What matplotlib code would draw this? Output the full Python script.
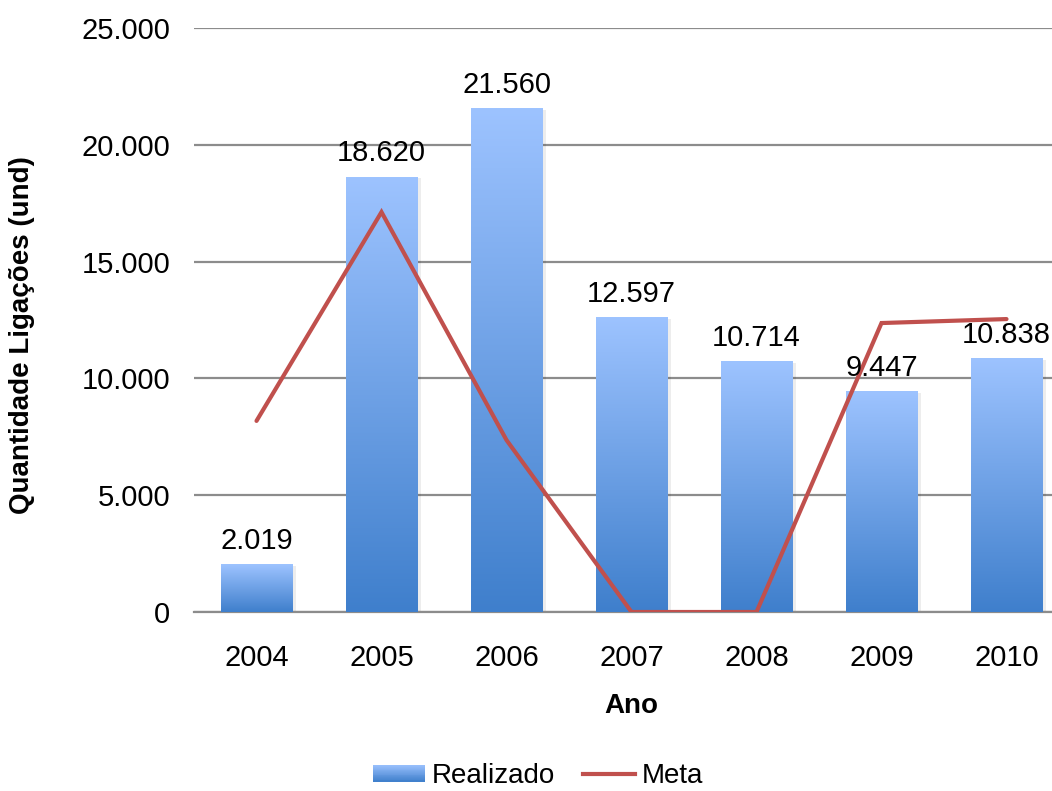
import matplotlib
matplotlib.use("Agg")
import matplotlib.pyplot as plt
import numpy as np
from matplotlib.patches import Rectangle
from matplotlib.lines import Line2D
from matplotlib.legend_handler import HandlerBase
from matplotlib.colors import LinearSegmentedColormap

plt.rcParams['font.family'] = ['Liberation Sans', 'DejaVu Sans']

years = ["2004", "2005", "2006", "2007", "2008", "2009", "2010"]
realizado = [2019, 18620, 21560, 12597, 10714, 9447, 10838]
realizado_labels = ["2.019", "18.620", "21.560", "12.597", "10.714", "9.447", "10.838"]
meta = [8180, 17120, 7360, 0, 0, 12370, 12540]
yticks = [0, 5000, 10000, 15000, 20000, 25000]
ytick_labels = ["0", "5.000", "10.000", "15.000", "20.000", "25.000"]

TOP = "#9DC3FF"
BOT = "#3F7FCC"
cmap = LinearSegmentedColormap.from_list("g", [BOT, TOP])

W, H = 1052, 791
fig = plt.figure(figsize=(W / 100, H / 100), dpi=100)
ax = fig.add_axes([194 / W, (H - 612) / H, 875 / W, 584 / H])

x = np.arange(len(years))
bw = 0.576
grad = np.linspace(0, 1, 256).reshape(-1, 1)

for xi, v, lab in zip(x, realizado, realizado_labels):
    ax.add_patch(Rectangle((xi - bw / 2 + 0.025, 0), bw, v - 60, facecolor="#000000",
                           alpha=0.07, edgecolor="none", zorder=2))
    ax.imshow(grad, extent=[xi - bw / 2, xi + bw / 2, 0, v], origin="lower",
              cmap=cmap, aspect="auto", zorder=3)
    ax.annotate(lab, (xi, v), xytext=(0, 7), textcoords="offset points",
                ha="center", va="bottom", fontsize=21, color="#000000", zorder=5)

ax.plot(x, meta, color="#C0504D", lw=3, solid_capstyle="round",
        solid_joinstyle="miter", zorder=4)

ax.set_xlim(-0.5, len(years) - 0.5)
ax.set_ylim(0, 25000)
ax.set_yticks(yticks)
ax.set_yticklabels(ytick_labels, fontsize=21)
ax.set_xticks(x)
ax.set_xticklabels(years, fontsize=21)
ax.tick_params(axis="both", length=0)
ax.tick_params(axis="y", pad=17)
ax.tick_params(axis="x", pad=23)
for s in ["left", "right", "top"]:
    ax.spines[s].set_visible(False)
ax.spines["bottom"].set_color("#8C8C8C")
ax.spines["bottom"].set_linewidth(1.6)
ax.yaxis.grid(True, color="#8C8C8C", lw=1.6)
ax.set_axisbelow(True)

ax.set_xlabel("Ano", fontsize=20, fontweight="bold", labelpad=15)
fig.text(22 / W, 1 - 335 / H, "Quantidade Ligações (und)", rotation=90,
         fontsize=20, fontweight="bold", ha="center", va="center")


class GradHandler(HandlerBase):
    def create_artists(self, legend, orig_handle, xdescent, ydescent, width,
                       height, fontsize, trans):
        arts = []
        n = 20
        for i in range(n):
            c = cmap(1 - (i + 0.5) / n)
            r = Rectangle((-xdescent, -ydescent + height * (1 - (i + 1) / n)),
                          width, height / n + 0.2, facecolor=c, edgecolor="none",
                          transform=trans)
            arts.append(r)
        return arts


gh = Rectangle((0, 0), 1, 1)
lh = Line2D([0], [0], color="#C0504D", lw=3)
leg = fig.legend([gh, lh], ["Realizado", "Meta"],
                 handler_map={Rectangle: GradHandler()},
                 loc="center", bbox_to_anchor=(538 / W, 1 - 776 / H), ncol=2,
                 frameon=False, fontsize=20, handlelength=1.87, handleheight=0.55,
                 handletextpad=0.25, columnspacing=1.0, borderpad=0.1)

fig.savefig("out.png", dpi=100)
